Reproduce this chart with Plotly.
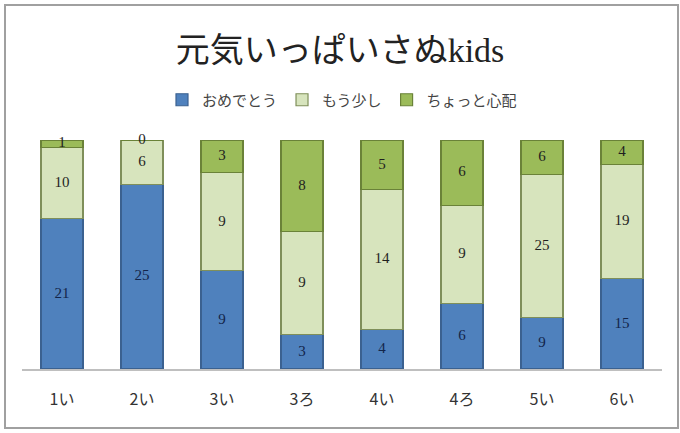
import plotly.graph_objects as go

categories = ["1い", "2い", "3い", "3ろ", "4い", "4ろ", "5い", "6い"]
omedetou = [21, 25, 9, 3, 4, 6, 9, 15]
mousukoshi = [10, 6, 9, 9, 14, 9, 25, 19]
chotto = [1, 0, 3, 8, 5, 6, 6, 4]

series = [
    ("おめでとう", omedetou, "#4F81BD", "#3B6190", "#13254a"),
    ("もう少し", mousukoshi, "#D7E4BD", "#7F8F5A", "#1f1f1f"),
    ("ちょっと心配", chotto, "#9BBB59", "#6A8238", "#1f1f1f"),
]

W, H = 680, 433
L, R, T, B = 22, 18, 140, 64
pw, ph = W - L - R, H - T - B

totals = [sum(v) for v in zip(omedetou, mousukoshi, chotto)]

fig = go.Figure()
for name, vals, color, lc, tc in series:
    fig.add_trace(go.Bar(
        x=categories, y=vals, name=name,
        marker=dict(color=color, line=dict(color=lc, width=1.2)),
        textposition="none", hoverinfo="skip",
    ))

# data labels at the middle of each stacked segment (percent scale)
base = [0.0] * len(categories)
for name, vals, color, lc, tc in series:
    mids = []
    for i, v in enumerate(vals):
        pct = 100.0 * v / totals[i]
        mids.append(base[i] + pct / 2)
        base[i] += pct
    fig.add_trace(go.Scatter(
        x=categories, y=mids, mode="text", text=[str(v) for v in vals],
        textposition="middle center", showlegend=False, hoverinfo="skip",
        textfont=dict(family="Liberation Serif, Noto Sans CJK JP", size=15, color=tc),
        cliponaxis=False,
    ))

fig.update_layout(
    width=W, height=H,
    margin=dict(l=L, r=R, t=T, b=B),
    barmode="stack", barnorm="percent", bargap=0.475,
    paper_bgcolor="white", plot_bgcolor="white",
    showlegend=True,
    title=dict(text="元気いっぱいさぬkids", x=0.5, xanchor="center",
               y=1 - 50 / H, yanchor="middle",
               font=dict(family="Liberation Serif, Noto Sans CJK JP", size=34, color="#222")),
    legend=dict(orientation="h", x=0.5, xanchor="center", y=1 + 40 / ph, yanchor="middle",
                font=dict(family="Noto Sans CJK JP", size=15, color="#444"),
                itemwidth=30, traceorder="normal"),
    xaxis=dict(showline=True, linecolor="#BFBFBF", linewidth=1.5, ticks="",
               tickfont=dict(family="Noto Sans CJK JP", size=16, color="#333"),
               ticklabelstandoff=15),
    yaxis=dict(visible=False, range=[0, 100]),
    shapes=[dict(type="rect", xref="paper", yref="paper",
                 x0=(5 - L) / pw, x1=(678 - L) / pw,
                 y0=(H - B - 428) / ph, y1=(H - B - 5) / ph,
                 line=dict(color="#A0A0A0", width=2), layer="below")],
)

fig.write_html("out.html")
